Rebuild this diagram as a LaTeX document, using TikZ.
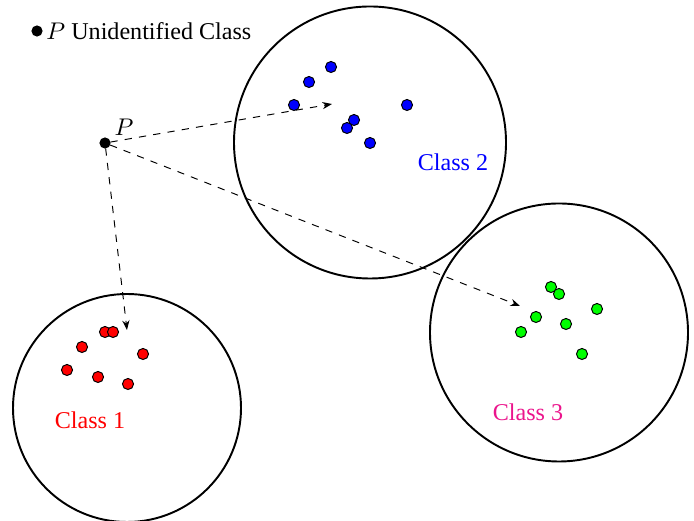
\documentclass[tikz,border=0pt]{standalone}
\usepackage{fontspec}
\setmainfont{Liberation Serif}
\usetikzlibrary{arrows.meta}
\definecolor{cthree}{RGB}{235,20,140}
\begin{document}
\begin{tikzpicture}[x=0.415pt,y=-0.415pt,
  region/.style={draw=black,line width=0.8pt},
  pt/.style={circle,draw=black,line width=0.4pt,inner sep=0pt,minimum size=4.6pt},
  link/.style={dashed,line width=0.4pt,-{Stealth[length=4pt,width=3pt]}},
  lbl/.style={font=\normalsize}]
\useasboundingbox (0,0) rectangle (694,521);
% regions
\draw[region] (370,142.5) circle[radius=136];
\draw[region] (127,408) circle[radius=114];
\draw[region] (559,332.5) circle[radius=129];
% legend
\node[pt,fill=black,minimum size=4.2pt] (ld) at (37,31) {};
\node[anchor=west,inner sep=0pt] (lt) at (46,31) {$P$ Unidentified Class};
% point P
\node[pt,fill=black,minimum size=4.2pt] (P) at (105,143) {};
\node (Pl) at (124,127) {$P$};
% targets
\coordinate (t2) at (332,104);
\coordinate (t1) at (127,330);
\coordinate (t3) at (520,306);
\draw[link] (P) -- (t2);
\draw[link] (P) -- (t1);
\draw[link] (P) -- (t3);
% blue points
\foreach \x/\y [count=\i] in {331/67,309/82,294/105,407/105,354/120,347/128,370/143}
  \node[pt,fill=blue] (b\i) at (\x,\y) {};
% red points
\foreach \x/\y [count=\i] in {105/332,113/332,82/347,143/354,67/370,98/377,128/384}
  \node[pt,fill=red] (r\i) at (\x,\y) {};
% green points
\foreach \x/\y [count=\i] in {551/287,559/294,536/317,597/309,566/324,521/332,582/354}
  \node[pt,fill=green] (g\i) at (\x,\y) {};
% labels
\node[text=blue] (c2) at (453,162) {Class 2};
\node[text=red] (c1) at (90,420) {Class 1};
\node[text=cthree] (c3) at (528,412) {Class 3};
\end{tikzpicture}
\end{document}
